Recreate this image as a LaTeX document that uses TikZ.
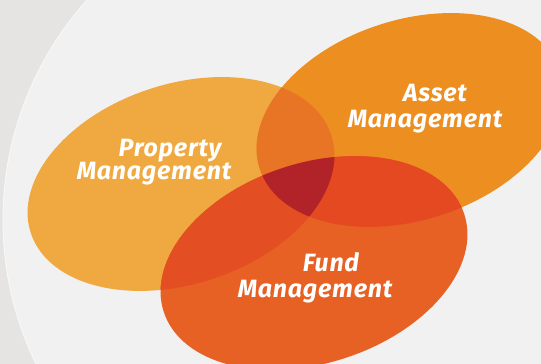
\documentclass[tikz,border=0pt]{standalone}
\usepackage{fontspec}
\setsansfont{Fira Sans}[LetterSpace=3]
\definecolor{bgdark}{HTML}{E5E4E2}
\definecolor{bglight}{HTML}{F1F1F1}
\definecolor{propcol}{HTML}{F0A940}
\definecolor{assetcol}{HTML}{ED8E21}
\definecolor{fundcol}{HTML}{E66123}
\definecolor{pacol}{HTML}{E87426}
\definecolor{pfcol}{HTML}{E34E22}
\definecolor{afcol}{HTML}{E54922}
\definecolor{allcol}{HTML}{B22229}
\tikzset{
  lbl/.style={text=white,inner sep=0pt,anchor=base,
    font=\sffamily\bfseries\itshape\fontsize{25}{27}\selectfont},
  propturn/.style={rotate around={18:(181,180)}},
  assetturn/.style={rotate around={18:(410,244)}},
  fundturn/.style={rotate around={18:(314,101)}}
}
\begin{document}
\begin{tikzpicture}[x=1pt,y=1pt]
\useasboundingbox (0,0) rectangle (541,364);
% background
\fill[bgdark] (0,0) rectangle (541,364);
\begin{scope}
\clip (0,0) rectangle (541,364);
\fill[bglight] (333,144) circle (330);
\draw[white!40!bglight,line width=1pt] (333,144) circle (330);
\end{scope}

% the three fields
\fill[propcol,propturn] (181,180) ellipse (158 and 100);
\fill[assetcol,assetturn] (410,244) ellipse (158 and 100);
\fill[fundcol,fundturn] (314,101) ellipse (158 and 100);

% overlaps
\begin{scope}
\clip[propturn] (181,180) ellipse (158 and 100);
\fill[pacol,assetturn] (410,244) ellipse (158 and 100);
\fill[pfcol,fundturn] (314,101) ellipse (158 and 100);
\end{scope}
\begin{scope}
\clip[assetturn] (410,244) ellipse (158 and 100);
\fill[afcol,fundturn] (314,101) ellipse (158 and 100);
\clip[propturn] (181,180) ellipse (158 and 100);
\fill[allcol,fundturn] (314,101) ellipse (158 and 100);
\end{scope}

% labels
\node[lbl] (prop1) at (170,207) {Property};
\node[lbl] (prop2) at (154,184) {Management};
\node[lbl] (asset1) at (435,262) {Asset};
\node[lbl] (asset2) at (425,236) {Management};
\node[lbl] (fund1) at (331,92) {Fund};
\node[lbl] (fund2) at (315,66) {Management};
\end{tikzpicture}
\end{document}
